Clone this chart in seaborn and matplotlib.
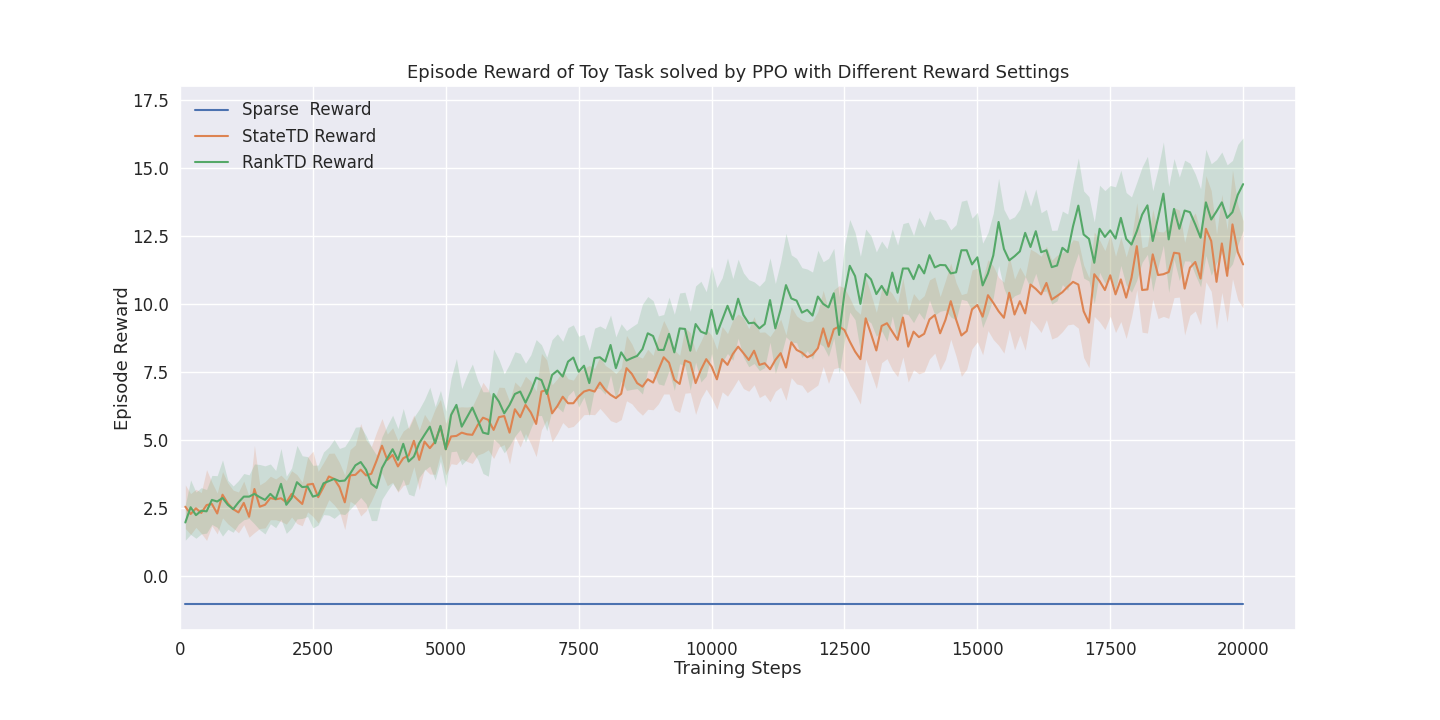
import numpy as np
import pandas as pd
import matplotlib
matplotlib.use('Agg')
import matplotlib.pyplot as plt
import seaborn as sns

# training steps at which every run was evaluated
steps = list(range(100, 20001, 100))

labels = ['Sparse  Reward', 'StateTD Reward', 'RankTD Reward']

# sparse reward stays flat for the whole run
sparse_reward = [-1.0] * len(steps)

# StateTD mean episode reward
state_td = [
    2.56, 2.29, 2.50, 2.33, 2.62, 2.66, 2.31, 3.00, 2.68, 2.47,
    2.35, 2.70, 2.19, 3.21, 2.56, 2.63, 2.88, 2.83, 2.87, 2.72,
    3.03, 2.84, 2.66, 3.37, 3.40, 2.91, 3.28, 3.67, 3.58, 3.28,
    2.72, 3.71, 3.73, 3.92, 3.71, 3.77, 4.26,
    4.80, 4.28, 4.46, 4.04, 4.34, 4.44, 4.98, 4.28, 4.95, 4.71,
    4.95, 5.50, 4.67, 5.14, 5.16, 5.28, 5.22, 5.20, 5.56, 5.83,
    5.75, 5.38, 5.85, 5.89, 5.28, 6.14, 5.85, 6.30, 6.02, 5.60,
    6.79, 6.85, 5.99, 6.26,
    6.60, 6.36, 6.36, 6.61, 6.79, 6.85, 6.79, 7.12, 6.85, 6.67,
    6.55, 6.71, 7.65, 7.44, 7.10, 6.97, 7.24, 7.12, 7.59, 8.05,
    7.85, 7.22, 7.07, 7.93, 7.85, 7.10, 7.59, 7.98, 7.71, 7.24,
    7.98, 7.77, 8.17, 8.44, 8.20, 7.95, 8.29, 7.77,
    7.83, 7.61, 7.95, 8.20, 7.67, 8.60, 8.32, 8.22, 8.05, 8.14,
    8.38, 9.11, 8.44, 9.08, 9.18, 9.05, 8.63, 8.26, 7.98, 9.48,
    8.91, 8.30, 9.20, 9.30, 8.99, 8.69, 9.51, 8.44, 8.99, 8.79,
    8.91, 9.44, 9.60,
    8.93, 9.42, 10.11, 9.44, 8.85, 9.01, 9.81, 9.97, 9.54, 10.33,
    10.05, 9.74, 9.50, 10.42, 9.62, 10.11, 9.66, 10.72, 10.56, 10.36,
    10.78, 10.17, 10.30, 10.44, 10.64, 10.82, 10.72, 9.74, 9.32,
    11.10, 10.85, 10.52, 11.06, 10.36, 10.91, 10.24, 10.97, 12.13, 10.52,
    10.54, 11.83, 11.07, 11.10, 11.18, 11.89, 11.86, 10.57, 11.34, 11.55,
    10.94, 12.77, 12.32, 10.82, 12.23, 11.04, 12.93, 11.91, 11.46,
]

# half width of the StateTD confidence band
state_td_ci = [
    0.80, 0.75, 0.70, 0.75, 1.30, 0.80, 0.75, 0.85, 0.75, 0.70,
    0.75, 0.80, 0.75, 1.60, 0.80, 0.85, 0.80, 0.75, 0.85, 0.80,
    0.85, 0.90, 0.80, 1.00, 1.20, 0.95, 0.90, 0.85, 0.95, 0.90,
    1.00, 0.95, 1.10, 1.70, 1.30, 1.00, 1.05, 1.00, 0.95, 1.00,
    0.95, 1.00, 1.05, 0.95, 1.10, 1.00, 0.95, 1.20, 1.00, 0.95,
    1.00, 1.05, 0.95, 1.00, 1.05, 1.10, 1.30, 1.10, 1.05, 1.10,
    1.05, 1.15, 1.00, 1.10, 1.05, 1.15, 1.20, 1.40, 1.10, 1.05,
    1.00, 0.95, 0.90, 0.85, 0.90, 0.85, 0.90, 0.85, 0.95, 0.90,
    0.95, 0.90, 0.95, 1.20, 1.10, 1.00, 1.05, 1.10, 1.00, 1.25,
    1.35, 1.15, 1.10, 1.05, 1.20, 1.10, 1.15, 1.05, 1.10, 1.15,
    1.10, 1.20, 1.15, 1.25, 1.20, 1.30, 1.15, 1.25, 1.20, 1.15,
    1.20, 1.15, 1.25, 1.20, 1.30, 1.25, 1.20, 1.30, 1.25, 1.35,
    1.40, 1.35, 1.45, 1.50, 1.55, 1.60, 1.55, 1.65, 1.50, 1.45,
    1.40, 1.35, 1.30, 1.40, 1.35, 1.45, 1.30, 1.40, 1.35, 1.40,
    1.45, 1.40, 1.35, 1.45, 1.40, 1.35, 1.50, 1.40, 1.45, 1.35,
    1.40, 1.30, 1.35, 1.25, 1.30, 1.35, 1.30, 1.25, 1.35, 1.30,
    1.35, 1.40, 1.35, 1.45, 1.50, 1.45, 1.40, 1.55, 1.60, 1.70,
    1.65, 1.55, 1.50, 1.45, 1.50, 1.40, 1.55, 1.50, 1.45, 1.60,
    1.55, 1.60, 1.65, 1.60, 1.55, 1.70, 1.65, 1.60, 1.70, 1.75,
    1.80, 1.70, 1.95, 1.85, 1.75, 1.80, 1.70, 2.00, 1.75, 1.60,
]

# RankTD mean episode reward
rank_td = [
    1.98, 2.54, 2.25, 2.41, 2.39, 2.81, 2.75, 2.88, 2.63, 2.47,
    2.72, 2.93, 2.93, 3.03, 2.91, 2.81, 3.03, 2.84, 3.40, 2.63,
    2.88, 3.46, 3.28, 3.30, 2.93, 2.99, 3.42, 3.50, 3.58, 3.50,
    3.52, 3.77, 4.08, 4.20, 3.92, 3.40, 3.25,
    3.98, 4.34, 4.67, 4.28, 4.87, 4.22, 4.40, 4.89, 5.20, 5.50,
    4.89, 5.53, 4.67, 5.93, 6.30, 5.50, 5.85, 6.20, 5.75, 5.28,
    5.23, 6.70, 6.42, 5.99, 6.30, 6.70, 6.79, 6.38, 6.79, 7.30,
    7.21, 6.70, 7.40, 7.56,
    7.34, 7.89, 8.04, 7.52, 7.74, 7.10, 8.02, 8.05, 7.89, 8.50,
    7.65, 8.23, 7.93, 8.02, 8.10, 8.35, 8.93, 8.83, 8.32, 8.32,
    8.91, 8.23, 9.11, 9.09, 8.29, 9.27, 8.99, 8.91, 9.79, 8.91,
    9.42, 9.94, 9.44, 10.20, 9.60, 9.30, 9.32, 9.11,
    9.27, 10.15, 9.11, 9.81, 10.70, 10.21, 10.13, 9.69, 9.79, 9.58,
    10.28, 10.01, 9.88, 10.40, 8.87, 10.40, 11.41, 11.03, 10.01, 11.11,
    10.91, 10.37, 10.67, 10.34, 11.16, 10.42, 11.31, 11.31, 10.92, 11.44,
    11.13, 11.80, 11.35,
    11.44, 11.43, 11.13, 11.17, 11.98, 11.98, 11.46, 11.72, 10.69, 11.13,
    11.79, 13.02, 12.03, 11.61, 11.76, 11.94, 12.62, 12.10, 12.68, 11.91,
    11.98, 11.36, 11.42, 12.07, 11.91, 12.86, 13.62, 12.56, 12.40,
    11.52, 12.77, 12.47, 12.71, 12.41, 13.17, 12.40, 12.19, 12.68, 13.29,
    13.63, 12.32, 13.17, 14.06, 12.38, 13.50, 12.77, 13.44, 13.38, 12.93,
    12.44, 13.74, 13.11, 13.41, 13.74, 13.17, 13.38, 14.02, 14.41,
]

# half width of the RankTD confidence band
rank_td_ci = [
    0.65, 1.00, 0.85, 0.85, 0.80, 0.90, 0.95, 1.40, 0.90, 0.85,
    0.80, 0.85, 0.80, 1.10, 1.20, 1.25, 1.10, 1.05, 1.30, 1.05,
    1.10, 1.35, 1.15, 1.10, 1.15, 1.10, 1.15, 1.25, 1.45, 1.20,
    1.25, 1.30, 1.40, 1.30, 1.25, 1.35, 1.20, 1.15, 1.20, 1.25,
    1.15, 1.30, 1.20, 1.45, 1.25, 1.30, 1.45, 1.35, 1.30, 1.40,
    1.35, 1.70, 1.40, 1.55, 1.60, 1.45, 1.50, 1.55, 1.65, 1.55,
    1.45, 1.50, 1.55, 1.40, 1.45, 1.35, 1.40, 1.30, 1.35, 1.30,
    1.35, 1.30, 1.25, 1.20, 1.30, 1.15, 1.20, 1.10, 1.15, 1.20,
    1.10, 1.15, 1.05, 1.10, 1.15, 1.20, 1.65, 1.35, 1.30, 1.25,
    1.30, 1.35, 1.40, 1.30, 1.35, 1.45, 1.40, 1.85, 1.55, 1.60,
    1.70, 1.55, 1.75, 1.50, 1.45, 1.55, 1.60, 1.50, 1.55, 1.60,
    1.55, 1.65, 1.75, 1.90, 1.60, 1.55, 1.65, 1.50, 1.60, 1.70,
    1.55, 1.80, 1.65, 1.40, 1.75, 1.70, 1.60, 1.75, 1.65, 1.60,
    1.55, 1.65, 1.70, 1.60, 1.75, 1.65, 1.70, 1.60, 1.75, 1.70,
    1.65, 1.75, 1.70, 1.65, 1.60, 1.75, 1.80, 1.85, 1.70, 1.65,
    1.55, 1.50, 1.55, 1.60, 1.45, 1.50, 1.45, 1.55, 1.60, 1.50,
    1.55, 1.45, 1.50, 1.35, 1.30, 1.35, 1.40, 1.55, 1.75, 1.60,
    1.55, 1.50, 1.60, 1.70, 1.65, 1.90, 1.75, 1.70, 1.75, 1.80,
    1.75, 1.80, 1.85, 1.80, 1.90, 1.95, 1.85, 1.90, 1.85, 1.80,
    1.85, 1.80, 1.95, 2.05, 1.90, 1.85, 1.95, 1.90, 1.85, 1.70,
]

assert len(state_td) == len(steps) == len(rank_td)
assert len(state_td_ci) == len(steps) == len(rank_td_ci)

df = pd.DataFrame({
    'step': steps * 3,
    'reward': sparse_reward + state_td + rank_td,
    'setting': [labels[0]] * len(steps) + [labels[1]] * len(steps) + [labels[2]] * len(steps),
})

sns.set_theme(style='darkgrid')
palette = sns.color_palette()[:3]

fig, ax = plt.subplots(figsize=(14.4, 7.2), dpi=100)
fig.subplots_adjust(left=0.125, right=0.9, bottom=0.125, top=0.88)

sns.lineplot(data=df, x='step', y='reward', hue='setting', hue_order=labels,
             palette=palette, errorbar=None, linewidth=1.5, ax=ax)

# confidence bands, same look as seaborn's own
for mean, ci, c in [(state_td, state_td_ci, palette[1]), (rank_td, rank_td_ci, palette[2])]:
    mean = np.array(mean)
    ci = np.array(ci)
    ax.fill_between(steps, mean - ci, mean + ci, color=c, alpha=0.2, linewidth=0)

ax.set_xlim(0, 20995)
ax.set_ylim(-1.97, 18.0)
ax.set_title('Episode Reward of Toy Task solved by PPO with Different Reward Settings', fontsize=13)
ax.set_xlabel('Training Steps', fontsize=13, labelpad=1)
ax.set_ylabel('Episode Reward', fontsize=13, labelpad=0)
ax.tick_params(labelsize=12, pad=2)
ax.legend(loc='upper left', frameon=False, fontsize=12)

plt.savefig('out.png', dpi=100)
